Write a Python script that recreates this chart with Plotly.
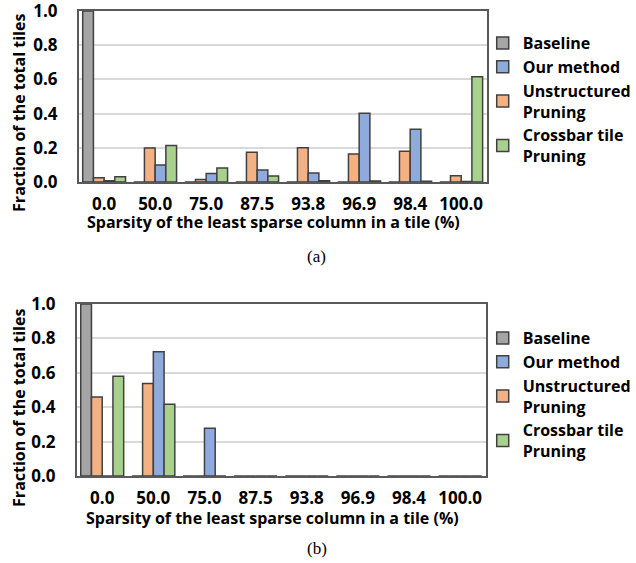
import plotly.graph_objects as go

categories = ["0.0", "50.0", "75.0", "87.5", "93.8", "96.9", "98.4", "100.0"]

# Panel (a)
a_baseline = [1.0, 0, 0, 0, 0, 0, 0, 0]
a_our = [0.008, 0.10, 0.05, 0.07, 0.053, 0.402, 0.308, 0.003]
a_unstructured = [0.025, 0.199, 0.014, 0.174, 0.20, 0.164, 0.18, 0.037]
a_crossbar = [0.03, 0.213, 0.082, 0.035, 0.008, 0.006, 0.005, 0.615]

# Panel (b)
b_baseline = [1.0, 0, 0, 0, 0, 0, 0, 0]
b_our = [0, 0.722, 0.278, 0, 0, 0, 0, 0]
b_unstructured = [0.46, 0.538, 0, 0, 0, 0, 0, 0]
b_crossbar = [0.58, 0.417, 0, 0, 0, 0, 0, 0]

series_names = ["Baseline", "Unstructured<br>Pruning", "Our method", "Crossbar tile<br>Pruning"]
colors = ["#A5A5A5", "#F4B183", "#8FAADC", "#A9D18E"]
ranks = [1, 3, 2, 4]

W, H = 636, 563
FONT = "Open Sans"
edge = "#404040"

fig = go.Figure()
panels = [
    ([a_baseline, a_unstructured, a_our, a_crossbar], "x", "y", "legend"),
    ([b_baseline, b_unstructured, b_our, b_crossbar], "x2", "y2", "legend2"),
]
for vals_list, xa, ya, lg in panels:
    for name, vals, col, rk in zip(series_names, vals_list, colors, ranks):
        fig.add_trace(go.Bar(
            x=categories, y=vals, name=name, xaxis=xa, yaxis=ya, legend=lg,
            legendrank=rk,
            marker=dict(color=col, line=dict(color=edge, width=1.5)),
        ))

def px_x(p):
    return p / W

def px_y(p):
    return 1 - p / H

tickfont = dict(family=FONT, size=17, color="#000000", weight="bold")

def xaxis(l, r, anchor):
    return dict(domain=[px_x(l), px_x(r)], anchor=anchor, type="category",
                automargin=False, ticklabeloverflow="allow",
                showline=True, mirror=True, linecolor="#595959", linewidth=1.5,
                ticks="", tickfont=tickfont, ticklabelstandoff=6,
                showgrid=False, zeroline=False, fixedrange=True)

def yaxis(t, b, anchor):
    return dict(domain=[px_y(b), px_y(t)], anchor=anchor, range=[0, 1],
                automargin=False, ticklabeloverflow="allow",
                tickvals=[0, 0.2, 0.4, 0.6, 0.8, 1.0], tickformat=".1f",
                showline=True, mirror=True, linecolor="#595959", linewidth=1.5,
                showgrid=True, gridcolor="#D9D9D9", gridwidth=2,
                zeroline=False, ticks="", tickfont=tickfont, ticklabelstandoff=16,
                fixedrange=True)

legend_common = dict(font=dict(family=FONT, size=16, color="#000000", weight="bold"),
                     xanchor="left", yanchor="top", bgcolor="rgba(0,0,0,0)",
                     traceorder="normal", itemclick=False)

titlefont = dict(family=FONT, size=16, color="#000000", weight="bold")
capfont = dict(family="Liberation Serif", size=17, color="#000000")

def ann(text, x, y, font, angle=0):
    return dict(text=text, x=px_x(x), y=px_y(y), xref="paper", yref="paper",
                xanchor="center", yanchor="middle", showarrow=False,
                font=font, textangle=angle)

fig.update_layout(
    width=W, height=H,
    margin=dict(l=0, r=0, t=0, b=0),
    paper_bgcolor="white", plot_bgcolor="white",
    barmode="group", bargap=0.16, bargroupgap=0,
    showlegend=True,
    xaxis=xaxis(79, 489, "y"),
    yaxis=yaxis(11, 182, "x"),
    xaxis2=xaxis(77, 488, "y2"),
    yaxis2=yaxis(304, 476, "x2"),
    legend=dict(x=px_x(485), y=px_y(26), **legend_common),
    legend2=dict(x=px_x(485), y=px_y(321), **legend_common),
    annotations=[
        ann("Sparsity of the least sparse column in a tile (%)", 275, 222, titlefont),
        ann("Sparsity of the least sparse column in a tile (%)", 274, 518, titlefont),
        ann("Fraction of the total tiles", 19, 113, titlefont, -90),
        ann("Fraction of the total tiles", 19, 408, titlefont, -90),
        ann("(a)", 318, 256, capfont),
        ann("(b)", 318, 548, capfont),
    ],
)

fig.write_html("out.html", config={"displayModeBar": False},
               post_script="document.body.style.margin='0';")
